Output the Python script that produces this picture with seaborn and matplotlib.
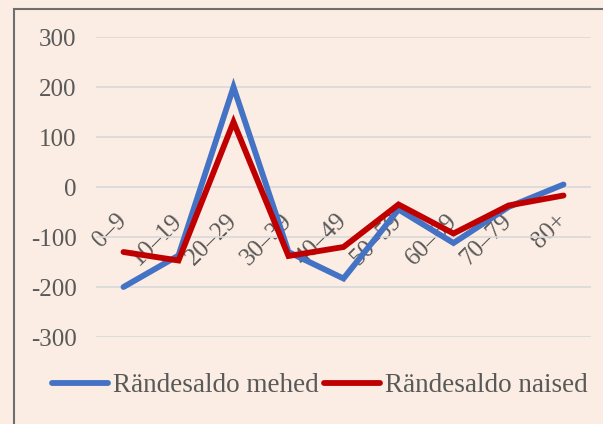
import matplotlib
matplotlib.use("Agg")
import matplotlib.pyplot as plt
from matplotlib.patches import Rectangle
import pandas as pd
import seaborn as sns

# Age groups and net migration balance by sex
age_groups = ["0–9", "10–19", "20–29", "30–39", "40–49", "50–59", "60–69", "70–79", "80+"]
men = [-200, -137, 200, -130, -183, -45, -112, -40, 5]
women = [-130, -147, 130, -138, -120, -35, -93, -37, -17]
series_names = ["Rändesaldo mehed", "Rändesaldo naised"]
y_ticks = [-300, -200, -100, 0, 100, 200, 300]

bg = "#FBEDE3"
text_color = "#595959"
colors = ["#4472C4", "#C00000"]
line_w = 4.2

df = pd.DataFrame({
    "Vanus": age_groups * 2,
    "Rändesaldo": men + women,
    "Seeria": [series_names[0]] * len(age_groups) + [series_names[1]] * len(age_groups),
})

sns.set_theme(style="white")
plt.rcParams["font.family"] = ["Liberation Serif", "DejaVu Serif"]
plt.rcParams["font.size"] = 17

fig = plt.figure(figsize=(6.03, 4.24), dpi=100, facecolor=bg)
ax = fig.add_axes([96 / 603, 1 - 337 / 424, 495 / 603, 300 / 424])
ax.set_facecolor(bg)

sns.lineplot(
    data=df, x="Vanus", y="Rändesaldo", hue="Seeria", palette=colors,
    sort=False, linewidth=line_w, ax=ax, legend=True,
)
for ln in ax.lines:
    ln.set_solid_capstyle("round")
    ln.set_solid_joinstyle("miter")

ax.set_xlim(-0.5, len(age_groups) - 0.5)
ax.set_ylim(-300, 300)
ax.set_yticks(y_ticks)
ax.set_yticklabels([str(v) for v in y_ticks])
ax.yaxis.grid(True, color="#D9D9D9", linewidth=1.2)
ax.set_axisbelow(True)

for side in ["top", "right", "left"]:
    ax.spines[side].set_visible(False)
ax.spines["bottom"].set_position(("data", 0))
ax.spines["bottom"].set_visible(False)

ax.tick_params(axis="y", length=0, pad=14, labelcolor=text_color, labelsize=18)
ax.tick_params(axis="x", length=0, pad=22, labelcolor=text_color, labelsize=18)
for lbl in ax.get_xticklabels():
    lbl.set_rotation(45)
    lbl.set_ha("right")
    lbl.set_va("center")
    lbl.set_rotation_mode("anchor")

ax.set_xlabel("")
ax.set_ylabel("")

handles, labels = ax.get_legend_handles_labels()
ax.legend_.remove()
for h in handles:
    h.set_solid_capstyle("round")
    h.set_linewidth(line_w)
fig.legend(
    handles, labels, loc="center", bbox_to_anchor=(320 / 603, 1 - 386 / 424),
    ncol=2, frameon=False, fontsize=19.5, handlelength=2.05, handletextpad=0.18,
    columnspacing=0.22, labelcolor=text_color, borderaxespad=0, borderpad=0,
)

# Chart frame
fig.add_artist(Rectangle(
    (14 / 603, -0.5), 2.0, 0.5 + (1 - 9 / 424), transform=fig.transFigure,
    fill=False, edgecolor="#6E6E6E", linewidth=1.5,
))

fig.savefig("out.png", dpi=100, facecolor=bg)
